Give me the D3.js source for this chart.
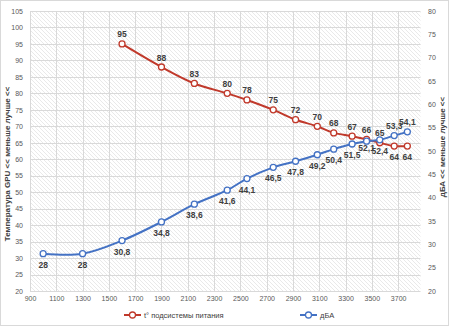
<!DOCTYPE html>
<html>
<head>
<meta charset="utf-8">
<script src="https://cdn.jsdelivr.net/npm/d3@7"></script>
<style>
  body { margin: 0; background: #fff; }
  svg { display: block; font-family: "Liberation Sans", Arial, sans-serif; }
</style>
</head>
<body>
<div id="chart"></div>
<script>
// clock values (x) shared by both series
var clocks = [1000, 1300, 1600, 1900, 2150, 2400, 2550, 2750, 2920, 3085, 3210, 3350, 3460, 3560, 3670, 3770];
// t° of power subsystem, starts at the 3rd clock
var tempClocks = clocks.slice(2);
var tempValues = [95, 88, 83, 80, 78, 75, 72, 70, 68, 67, 66, 65, 64, 64];
// noise dBA
var dbaValues = [28, 28, 30.8, 34.8, 38.6, 41.6, 44.1, 46.5, 47.8, 49.2, 50.4, 51.5, 52.1, 52.4, 53.3, 54.1];
var xTicks = [900, 1100, 1300, 1500, 1700, 1900, 2100, 2300, 2500, 2700, 2900, 3100, 3300, 3500, 3700];
var leftTicks = d3.range(20, 106, 5);
var rightTicks = d3.range(20, 81, 5);
var seriesNames = ["t° подсистемы питания", "дБА"];

function init() {
    var w = 450, h = 327;
    var left = 30, right = 420.5, top = 11, bottom = 291;
    var red = "#c0392b", blue = "#4472c4";

    var svg = d3.select("#chart").append("svg")
        .attr("width", w).attr("height", h);

    // hatch pattern of the plot area
    var defs = svg.append("defs");
    var pat = defs.append("pattern")
        .attr("id", "hatch")
        .attr("patternUnits", "userSpaceOnUse")
        .attr("width", 4).attr("height", 4);
    pat.append("path")
        .attr("d", "M-1,-1 L5,5 M-1,3 L1,5 M3,-1 L5,1")
        .attr("stroke", "#e3e3e3").attr("stroke-width", 0.8);

    svg.append("rect")
        .attr("x", 0.5).attr("y", 0.5)
        .attr("width", 448).attr("height", 325)
        .attr("fill", "#fff").attr("stroke", "#d9d9d9");

    var x = d3.scaleLinear().domain([900, 3870]).range([left, right]);
    var yL = d3.scaleLinear().domain([20, 105]).range([bottom, top]);
    var yR = d3.scaleLinear().domain([20, 80]).range([bottom, top]);

    svg.append("rect")
        .attr("x", left).attr("y", top)
        .attr("width", right - left).attr("height", bottom - top)
        .attr("fill", "url(#hatch)");

    // gridlines
    svg.append("g").selectAll("line")
        .data(leftTicks)
        .enter().append("line")
        .attr("x1", left).attr("x2", right)
        .attr("y1", function(d){ return Math.round(yL(d)) + 0.5; })
        .attr("y2", function(d){ return Math.round(yL(d)) + 0.5; })
        .attr("stroke", "#d9d9d9").attr("stroke-width", 1);
    svg.append("g").selectAll("line")
        .data(xTicks)
        .enter().append("line")
        .attr("y1", top).attr("y2", bottom)
        .attr("x1", function(d){ return Math.round(x(d)) + 0.5; })
        .attr("x2", function(d){ return Math.round(x(d)) + 0.5; })
        .attr("stroke", "#d9d9d9").attr("stroke-width", 1);

    // axes
    var axL = svg.append("g")
        .attr("transform", "translate(" + (left - 7) + ",0)")
        .call(d3.axisLeft(yL).tickValues(leftTicks).tickSize(0).tickPadding(0));
    var axR = svg.append("g")
        .attr("transform", "translate(" + (right + 7.5) + ",0)")
        .call(d3.axisRight(yR).tickValues(rightTicks).tickSize(0).tickPadding(0));
    var axB = svg.append("g")
        .attr("transform", "translate(0," + (bottom + 5) + ")")
        .call(d3.axisBottom(x).tickValues(xTicks).tickSize(0).tickPadding(0).tickFormat(d3.format("d")));
    [axL, axR, axB].forEach(function(a){
        a.select(".domain").remove();
        a.selectAll("text")
            .attr("fill", "#595959")
            .style("font-size", "7px")
            .style("font-family", "'Liberation Sans', Arial, sans-serif");
    });

    // axis titles
    svg.append("text")
        .attr("transform", "translate(10,164) rotate(-90)")
        .attr("text-anchor", "middle")
        .style("font-size", "8px").style("font-weight", "bold")
        .attr("fill", "#404040")
        .text("Температура GPU << меньше лучше <<");
    svg.append("text")
        .attr("transform", "translate(445,147) rotate(-90)")
        .attr("text-anchor", "middle")
        .style("font-size", "8px").style("font-weight", "bold")
        .attr("fill", "#404040")
        .text("дБА << меньше лучше <<");

    var tempData = tempClocks.map(function(c, i){ return {x: c, y: tempValues[i]}; });
    var dbaData = clocks.map(function(c, i){ return {x: c, y: dbaValues[i]}; });

    function drawSeries(data, yScale, color, labelDy) {
        var line = d3.line()
            .x(function(d){ return x(d.x); })
            .y(function(d){ return yScale(d.y); })
            .curve(d3.curveCatmullRom.alpha(0.5));
        svg.append("path")
            .datum(data)
            .attr("d", line)
            .attr("fill", "none")
            .attr("stroke", color)
            .attr("stroke-width", 2);
        svg.append("g").selectAll("circle")
            .data(data)
            .enter().append("circle")
            .attr("cx", function(d){ return x(d.x); })
            .attr("cy", function(d){ return yScale(d.y); })
            .attr("r", 3)
            .attr("fill", "#fff")
            .attr("stroke", color)
            .attr("stroke-width", 1.3);
        svg.append("g").selectAll("text")
            .data(data)
            .enter().append("text")
            .attr("x", function(d){ return x(d.x); })
            .attr("y", function(d, i){ return yScale(d.y) + labelDy(i); })
            .attr("text-anchor", "middle")
            .style("font-size", "8.5px")
            .style("font-weight", "bold")
            .attr("fill", "#404040")
            .text(function(d){ return String(d.y).replace(".", ","); });
    }

    drawSeries(tempData, yL, red, function(i){
        return i >= tempData.length - 2 ? 14 : -6.5;
    });
    drawSeries(dbaData, yR, blue, function(i){
        if (i >= dbaData.length - 2) return -6.5;
        if (i === dbaData.length - 4) return 10;
        return 14;
    });

    // legend
    var legend = [
        {name: seriesNames[0], color: red, x: 124},
        {name: seriesNames[1], color: blue, x: 300}
    ];
    var lg = svg.append("g").selectAll("g")
        .data(legend)
        .enter().append("g")
        .attr("transform", function(d){ return "translate(" + d.x + ",315)"; });
    lg.append("line")
        .attr("x1", 0).attr("x2", 17)
        .attr("stroke", function(d){ return d.color; })
        .attr("stroke-width", 2);
    lg.append("circle")
        .attr("cx", 8.5).attr("r", 3)
        .attr("fill", "#fff")
        .attr("stroke", function(d){ return d.color; })
        .attr("stroke-width", 1.3);
    lg.append("text")
        .attr("x", 20).attr("y", 3)
        .style("font-size", "7.5px")
        .attr("fill", "#404040")
        .text(function(d){ return d.name; });
}
window.onload = init;
</script>
</body>
</html>
